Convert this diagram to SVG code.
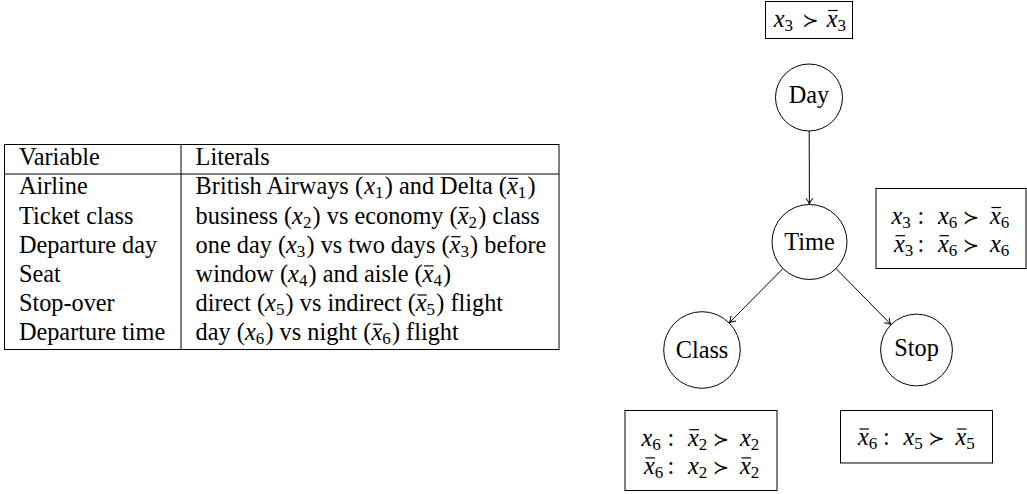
<svg xmlns="http://www.w3.org/2000/svg" width="1027" height="494" viewBox="0 0 1027 494">
<style>
.t{font-family:"Liberation Serif","Times New Roman",serif;font-size:24.3px;fill:#000}
.i{font-style:italic}
.s{font-size:17px;font-style:normal}
.op{font-family:"DejaVu Serif","DejaVu Sans",sans-serif;font-size:19.5px}
.c{text-anchor:middle}
.bar{stroke:#000;stroke-width:1.2}
.rule{stroke:#000;stroke-width:1;fill:none}
.node{fill:#fff;stroke:#000;stroke-width:1}
.box{fill:#fff;stroke:#000;stroke-width:1}
.edge{fill:none;stroke:#000;stroke-width:1;marker-end:url(#arr)}
</style>
<defs>
<marker id="arr" viewBox="-8 -5 10 10" refX="0" refY="0" markerWidth="10" markerHeight="10" markerUnits="userSpaceOnUse" orient="auto">
<path d="M-6,-3.3 C-3.8,-1.4 -1.2,-0.2 0,0 C-1.2,0.2 -3.8,1.4 -6,3.3" fill="none" stroke="#000" stroke-width="1" stroke-linecap="round"/>
</marker>
</defs>
<rect width="1027" height="494" fill="#fff"/>

<g id="table">
<rect class="rule" x="4.5" y="144.5" width="554.5" height="205"/>
<line class="rule" x1="4.5" y1="174" x2="559" y2="174"/>
<line class="rule" x1="181" y1="144.5" x2="181" y2="349.5"/>
<text class="t" x="18.9" y="164.9">Variable</text>
<text class="t" x="195.6" y="164.9">Literals</text>
<text class="t" x="18.9" y="194.4">Airline</text>
<text class="t" x="18.9" y="223.6">Ticket class</text>
<text class="t" x="18.9" y="252.7">Departure day</text>
<text class="t" x="18.9" y="281.9">Seat</text>
<text class="t" x="18.9" y="311">Stop-over</text>
<text class="t" x="18.9" y="340.2">Departure time</text>

<text class="t"><tspan x="195.6" y="194.4">British Airways (</tspan><tspan class="i" x="364.3" y="194.4">x</tspan><tspan class="s" x="375.1" y="198.4">1</tspan><tspan x="384.8" y="194.4">) and Delta (</tspan><tspan class="i" x="506.9" y="194.4">x</tspan><tspan class="s" x="517.7" y="198.4">1</tspan><tspan x="527.4" y="194.4">)</tspan></text>
<line class="bar" x1="508.4" y1="178.4" x2="517.9" y2="178.4"/>

<text class="t"><tspan x="195.6" y="223.6">business (</tspan><tspan class="i" x="292.1" y="223.6">x</tspan><tspan class="s" x="302.9" y="227.6">2</tspan><tspan x="312.6" y="223.6">) vs economy (</tspan><tspan class="i" x="457.7" y="223.6">x</tspan><tspan class="s" x="468.5" y="227.6">2</tspan><tspan x="478.2" y="223.6">) class</tspan></text>
<line class="bar" x1="459.2" y1="207.6" x2="468.7" y2="207.6"/>

<text class="t"><tspan x="195.6" y="252.7">one day (</tspan><tspan class="i" x="286" y="252.7">x</tspan><tspan class="s" x="296.8" y="256.7">3</tspan><tspan x="306.5" y="252.7">) vs two days (</tspan><tspan class="i" x="449.6" y="252.7">x</tspan><tspan class="s" x="460.4" y="256.7">3</tspan><tspan x="470.1" y="252.7">) before</tspan></text>
<line class="bar" x1="451.1" y1="236.7" x2="460.6" y2="236.7"/>

<text class="t"><tspan x="195.6" y="281.9">window (</tspan><tspan class="i" x="288.1" y="281.9">x</tspan><tspan class="s" x="298.9" y="285.9">4</tspan><tspan x="308.6" y="281.9">) and aisle (</tspan><tspan class="i" x="422.6" y="281.9">x</tspan><tspan class="s" x="433.4" y="285.9">4</tspan><tspan x="443.1" y="281.9">)</tspan></text>
<line class="bar" x1="424.1" y1="265.9" x2="433.6" y2="265.9"/>

<text class="t"><tspan x="195.6" y="311">direct (</tspan><tspan class="i" x="265.1" y="311">x</tspan><tspan class="s" x="275.9" y="315">5</tspan><tspan x="285.6" y="311">) vs indirect (</tspan><tspan class="i" x="415.8" y="311">x</tspan><tspan class="s" x="426.6" y="315">5</tspan><tspan x="436.3" y="311">) flight</tspan></text>
<line class="bar" x1="417.3" y1="295" x2="426.8" y2="295"/>

<text class="t"><tspan x="195.6" y="340.2">day (</tspan><tspan class="i" x="244.9" y="340.2">x</tspan><tspan class="s" x="255.7" y="344.2">6</tspan><tspan x="265.4" y="340.2">) vs night (</tspan><tspan class="i" x="371.4" y="340.2">x</tspan><tspan class="s" x="382.2" y="344.2">6</tspan><tspan x="391.9" y="340.2">) flight</tspan></text>
<line class="bar" x1="372.9" y1="324.2" x2="382.4" y2="324.2"/>
</g>

<g id="connectors">
<path class="edge" d="M809.2,131 L809.4,204.5"/>
<path class="edge" d="M783,268.5 L729.1,322.9"/>
<path class="edge" d="M836,268.5 L891.1,324.6"/>
</g>

<g id="node-day">
<circle class="node" cx="809" cy="97.5" r="33.5"/>
<text class="t c" x="809" y="102.9">Day</text>
</g>
<g id="node-time">
<circle class="node" cx="809.5" cy="242" r="37.5"/>
<text class="t c" x="809.5" y="250">Time</text>
</g>
<g id="node-class">
<circle class="node" cx="702" cy="350" r="38.3"/>
<text class="t c" x="702" y="358.3">Class</text>
</g>
<g id="node-stop">
<circle class="node" cx="916.5" cy="350" r="35.9"/>
<text class="t c" x="916.5" y="355.6">Stop</text>
</g>

<g id="cpt-day">
<rect class="box" x="765.5" y="1.5" width="87" height="37"/>
<text class="t"><tspan class="i" x="773.8" y="26.5">x</tspan><tspan class="s" x="784.6" y="30.5">3</tspan><tspan class="i" x="826.7" y="26.5">x</tspan><tspan class="s" x="837.5" y="30.5">3</tspan></text>
<text class="t op c" x="810.5" y="26.5">≻</text>
<line class="bar" x1="828.2" y1="10.5" x2="837.7" y2="10.5"/>
</g>

<g id="cpt-time">
<rect class="box" x="876" y="188.5" width="150" height="80"/>
<text class="t"><tspan class="i" x="891.5" y="223.5">x</tspan><tspan class="s" x="902.3" y="227.5">3</tspan><tspan class="i" x="938" y="223.5">x</tspan><tspan class="s" x="948.8" y="227.5">6</tspan><tspan class="i" x="990" y="223.5">x</tspan><tspan class="s" x="1000.8" y="227.5">6</tspan></text>
<text class="t c" x="921" y="223.5">:</text>
<text class="t op c" x="971" y="223.5">≻</text>
<line class="bar" x1="991.5" y1="207.5" x2="1001" y2="207.5"/>
<text class="t"><tspan class="i" x="894" y="251.7">x</tspan><tspan class="s" x="904.8" y="255.7">3</tspan><tspan class="i" x="938" y="251.7">x</tspan><tspan class="s" x="948.8" y="255.7">6</tspan><tspan class="i" x="990" y="251.7">x</tspan><tspan class="s" x="1000.8" y="255.7">6</tspan></text>
<text class="t c" x="921" y="251.7">:</text>
<text class="t op c" x="971" y="251.7">≻</text>
<line class="bar" x1="895.5" y1="235.7" x2="905" y2="235.7"/>
<line class="bar" x1="939.5" y1="235.7" x2="949" y2="235.7"/>
</g>

<g id="cpt-class">
<rect class="box" x="625" y="410.5" width="152" height="80"/>
<text class="t"><tspan class="i" x="641.5" y="445.7">x</tspan><tspan class="s" x="652.3" y="449.7">6</tspan><tspan class="i" x="688" y="445.7">x</tspan><tspan class="s" x="698.8" y="449.7">2</tspan><tspan class="i" x="740" y="445.7">x</tspan><tspan class="s" x="750.8" y="449.7">2</tspan></text>
<text class="t c" x="671" y="445.7">:</text>
<text class="t op c" x="721" y="445.7">≻</text>
<line class="bar" x1="689.5" y1="429.7" x2="699" y2="429.7"/>
<text class="t"><tspan class="i" x="644" y="473.9">x</tspan><tspan class="s" x="654.8" y="477.9">6</tspan><tspan class="i" x="688" y="473.9">x</tspan><tspan class="s" x="698.8" y="477.9">2</tspan><tspan class="i" x="740" y="473.9">x</tspan><tspan class="s" x="750.8" y="477.9">2</tspan></text>
<text class="t c" x="671" y="473.9">:</text>
<text class="t op c" x="721" y="473.9">≻</text>
<line class="bar" x1="645.5" y1="457.9" x2="655" y2="457.9"/>
<line class="bar" x1="741.5" y1="457.9" x2="751" y2="457.9"/>
</g>

<g id="cpt-stop">
<rect class="box" x="840.5" y="410.5" width="152" height="52.5"/>
<text class="t"><tspan class="i" x="858" y="445">x</tspan><tspan class="s" x="868.8" y="449">6</tspan><tspan class="i" x="903.5" y="445">x</tspan><tspan class="s" x="914.3" y="449">5</tspan><tspan class="i" x="955.5" y="445">x</tspan><tspan class="s" x="966.3" y="449">5</tspan></text>
<text class="t c" x="886.5" y="445">:</text>
<text class="t op c" x="936.5" y="445">≻</text>
<line class="bar" x1="859.5" y1="429" x2="869" y2="429"/>
<line class="bar" x1="957" y1="429" x2="966.5" y2="429"/>
</g>
</svg>
